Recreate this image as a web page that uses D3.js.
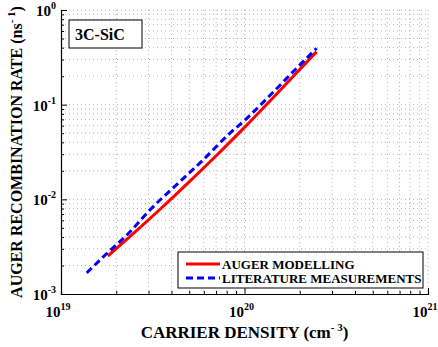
<!DOCTYPE html>
<html>
<head>
<meta charset="utf-8">
<script src="https://cdn.jsdelivr.net/npm/d3@7"></script>
<style>
  body { margin: 0; background: #fff; }
  text { font-family: "Liberation Serif", "Times New Roman", serif; font-weight: bold; }
</style>
</head>
<body>
<div id="chart"></div>
<script>
// carrier density (cm^-3) and Auger rate (ns^-1)
var modelDensity = [1.80e19, 2.51e19, 3.55e19, 5.01e19, 7.08e19, 1.00e20, 1.41e20, 2.47e20];
var modelRate    = [2.52e-3, 4.45e-3, 8.20e-3, 1.54e-2, 2.94e-2, 5.75e-2, 1.15e-1, 3.63e-1];
var litDensity = [1.38e19, 1.74e19, 2.38e19, 3.05e19, 4.45e19, 5.94e19, 8.13e19, 1.03e20, 1.44e20, 1.96e20, 2.47e20];
var litRate    = [1.67e-3, 2.58e-3, 4.55e-3, 7.71e-3, 1.54e-2, 2.60e-2, 4.78e-2, 7.18e-2, 1.37e-1, 2.52e-1, 3.94e-1];
var xTickExp = [19, 20, 21];
var yTickExp = [-3, -2, -1, 0];
var seriesNames = ["AUGER MODELLING", "LITERATURE MEASUREMENTS"];

var margin = {top: 10, right: 10, bottom: 53, left: 61},
    width = 438 - margin.left - margin.right,
    height = 347 - margin.top - margin.bottom;

var svg = d3.select("#chart")
  .append("svg")
    .attr("width", 438)
    .attr("height", 347)
  .append("g")
    .attr("transform", "translate(" + margin.left + "," + margin.top + ")");

var x = d3.scaleLog().domain([1e19, 1e21]).range([0, width]);
var y = d3.scaleLog().domain([1e-3, 1]).range([height, 0]);

// all ticks, major + minor
var xAll = [], yAll = [];
for (var e = 19; e < 21; e++) for (var m = 1; m < 10; m++) xAll.push(m * Math.pow(10, e));
xAll.push(1e21);
for (var e2 = -3; e2< 0; e2++) for (var m2 = 1; m2 < 10; m2++) yAll.push(m2 * Math.pow(10, e2));
yAll.push(1);

// dotted grid
svg.append("g").selectAll("line.gx")
  .data(xAll.slice(1))
  .enter().append("line")
    .attr("x1", function(d) { return x(d); })
    .attr("x2", function(d) { return x(d); })
    .attr("y1", 0).attr("y2", height)
    .attr("stroke", "#b4b4b4").attr("stroke-width", 1)
    .attr("stroke-dasharray", "1,3");
svg.append("g").selectAll("line.gy")
  .data(yAll.slice(1))
  .enter().append("line")
    .attr("y1", function(d) { return y(d); })
    .attr("y2", function(d) { return y(d); })
    .attr("x1", 0).attr("x2", width)
    .attr("stroke", "#b4b4b4").attr("stroke-width", 1)
    .attr("stroke-dasharray", "1,3");

// axes, ticks inside
var xAxis = svg.append("g")
  .attr("transform", "translate(0," + height + ")")
  .call(d3.axisBottom(x).tickValues(xAll).tickSize(-3).tickFormat(""));
var yAxis = svg.append("g")
  .call(d3.axisLeft(y).tickValues(yAll).tickSize(-3).tickFormat(""));
[xAxis, yAxis].forEach(function(a) {
  a.select(".domain").attr("stroke", "#000").attr("stroke-width", 1.2);
  a.selectAll(".tick line").attr("stroke", "#000");
});
xAxis.selectAll(".tick line").filter(function(d) { return Math.abs(Math.log10(d) % 1) < 1e-9; }).attr("y2", -6);
yAxis.selectAll(".tick line").filter(function(d) { return Math.abs(Math.log10(d) % 1) < 1e-9; }).attr("x2", 6);

// tick labels as 10^n
xTickExp.forEach(function(n) {
  var t = svg.append("text")
    .attr("x", x(Math.pow(10, n)) - 3)
    .attr("y", height + 23)
    .attr("text-anchor", "middle")
    .style("font-size", "15px");
  t.append("tspan").text("10");
  t.append("tspan").attr("dy", -7).style("font-size", "10px").text(n);
});
yTickExp.forEach(function(n) {
  var t = svg.append("text")
    .attr("x", -5)
    .attr("y", y(Math.pow(10, n)) + 6)
    .attr("text-anchor", "end")
    .style("font-size", "15px");
  t.append("tspan").text("10");
  t.append("tspan").attr("dy", -7).style("font-size", "10px").text(n);
});

// lines
var line = d3.line()
  .x(function(d) { return x(d[0]); })
  .y(function(d) { return y(d[1]); })
  .curve(d3.curveMonotoneX);

svg.append("path")
  .datum(d3.zip(modelDensity, modelRate))
  .attr("d", line)
  .attr("fill", "none").attr("stroke", "#ff0000").attr("stroke-width", 3);

svg.append("path")
  .datum(d3.zip(litDensity, litRate))
  .attr("d", line)
  .attr("fill", "none").attr("stroke", "#0000ff").attr("stroke-width", 3)
  .attr("stroke-dasharray", "7,4");

// material box
svg.append("rect")
  .attr("x", 8).attr("y", 10).attr("width", 73).attr("height", 28)
  .attr("fill", "#fff").attr("stroke", "#000").attr("stroke-width", 1);
svg.append("text")
  .attr("x", 14).attr("y", 30)
  .style("font-size", "16px")
  .text("3C-SiC");

// legend
var lg = svg.append("g").attr("transform", "translate(117,242)");
lg.append("rect")
  .attr("width", 245).attr("height", 36)
  .attr("fill", "#fff").attr("stroke", "#000").attr("stroke-width", 1);
var colors = ["#ff0000", "#0000ff"];
seriesNames.forEach(function(name, i) {
  var yy = 12 + i * 14;
  lg.append("line")
    .attr("x1", 8).attr("x2", 42).attr("y1", yy).attr("y2", yy)
    .attr("stroke", colors[i]).attr("stroke-width", 3)
    .attr("stroke-dasharray", i === 1 ? "7,4" : null);
  lg.append("text")
    .attr("x", 44).attr("y", yy + 5)
    .style("font-size", "13px")
    .text(name);
});

// axis titles
var xt = svg.append("text")
  .attr("x", width / 2 + 0)
  .attr("y", height + 44)
  .attr("text-anchor", "middle")
  .style("font-size", "17px");
xt.append("tspan").text("CARRIER DENSITY (cm");
xt.append("tspan").attr("dy", -7).style("font-size", "11px").text("- 3");
xt.append("tspan").attr("dy", 7).text(")");

var yt = svg.append("text")
  .attr("transform", "translate(-39," + (height / 2) + ") rotate(-90)")
  .attr("text-anchor", "middle")
  .style("font-size", "16px");
yt.append("tspan").text("AUGER RECOMBINATION RATE (ns");
yt.append("tspan").attr("dy", -7).style("font-size", "11px").text("- 1");
yt.append("tspan").attr("dy", 7).text(")");
</script>
</body>
</html>
